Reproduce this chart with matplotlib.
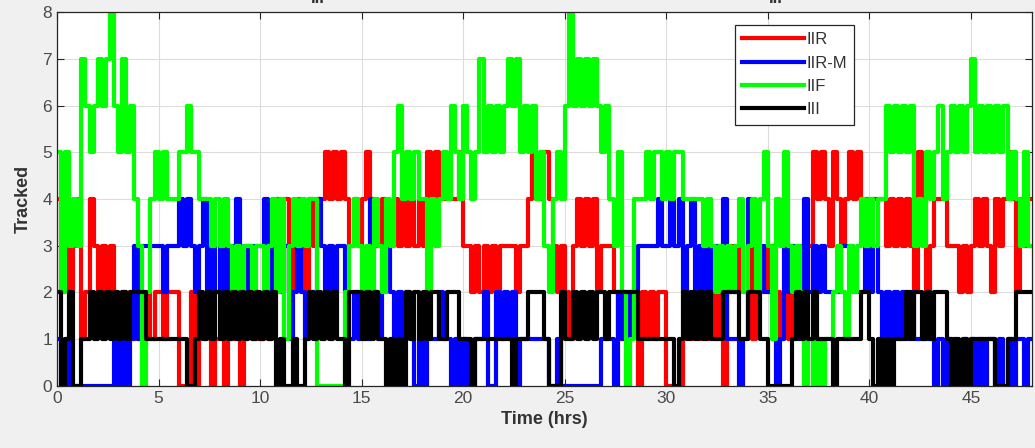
import numpy as np
import matplotlib
matplotlib.use('Agg')
import matplotlib.pyplot as plt

# 每0.2小时一个值, 每段10个值 = 2小时
dt = 0.2
iir = ("4232341243" "2323212121" "1121221222" "0002011201" "1011201311" "1213424234"
       "3243445454" "5434345433" "4334343434" "3545444445" "3323232323" "3332334544"
       "5432321343" "4342333212" "1220212122" "0000121212" "1212023232" "3122323212"
       "1223235454" "3543454544" "4444343434" "3254234443" "3323234343" "2434542434")
iirm = ("1010000000" "0000101013" "1333332333" "4343234232" "3233423233" "3423323123"
        "2122432323" "3212121421" "2321212101" "0111211010" "1001120021" "2120111111"
        "1001000000" "0000111021" "1223333343" "3434234232" "3233411101" "4323222013"
        "2312423232" "2223332223" "2321212121" "2111110101" "1001010101" "1010101101")
iif = ("5253437656" "7678657564" "3024545444" "5565544434" "3432323323" "3234241343"
       "4344000000" "0234323243" "2435645454" "4243454654" "6545756565" "6767565645"
       "3245468676" "7676564352" "0144454554" "5455444443" "4323232342" "3424531435"
       "3232010101" "1232132343" "4344656565" "6343545645" "6565675656" "5656454353")
iii = ("2012001121" "2121212122" "2211111111" "1100121212" "1212121212" "1212010010"
       "0121212121" "1022212121" "1010102121" "2122112221" "1101111111" "1101112222"
       "1000211212" "1212212222" "2221111111" "1101212121" "2111222211" "2221100000"
       "0121212111" "1011111122" "1010101112" "1221212221" "0101011111" "1000112222")

labels = ['IIR', 'IIR-M', 'IIF', 'III']
colors = ['#ff0000', '#0000ff', '#00ff00', '#000000']

plt.rcParams['font.family'] = ['Liberation Sans', 'DejaVu Sans']

fig = plt.figure(figsize=(10.35, 4.48), dpi=100, facecolor='#f0f0f0')
ax = fig.add_axes([0.0551, 0.1384, 0.9419, 0.8348])
ax.set_facecolor('white')

for s, lab, c in zip([iir, iirm, iif, iii], labels, colors):
    y = np.array([int(ch) for ch in s])
    t = np.arange(len(y)) * dt
    t = np.append(t, len(y) * dt)
    y = np.append(y, y[-1])
    ax.step(t, y, where='post', color=c, lw=3.0, label=lab)

ax.set_xlim(0, 48)
ax.set_ylim(0, 8)
ax.set_xticks(range(0, 46, 5))
ax.set_yticks(range(0, 9))
ax.grid(True, color='#dcdcdc', lw=0.8)
ax.set_axisbelow(True)
ax.tick_params(direction='in', top=True, right=True, labelsize=12.5,
               colors='#262626', labelcolor='#4a4a4a', length=5)
for sp in ax.spines.values():
    sp.set_color('#262626')
    sp.set_linewidth(0.9)

ax.set_xlabel('Time (hrs)', fontsize=13, fontweight='bold', color='#333333', labelpad=4)
ax.set_ylabel('Tracked', fontsize=13, fontweight='bold', color='#333333', labelpad=8)

leg = ax.legend(loc='upper left', bbox_to_anchor=(0.695, 0.966), borderaxespad=0,
                fontsize=12, handlelength=3.7, handletextpad=0.15, labelspacing=0.5,
                borderpad=0.45, fancybox=False, framealpha=1, edgecolor='#262626')
leg.get_frame().set_linewidth(0.9)
for txt in leg.get_texts():
    txt.set_color('#333333')

# 上方被截掉的标题
fig.text(0.300, 1.003, 'III', fontsize=12, fontweight='bold', color='#333333', va='center')
fig.text(0.743, 1.003, 'III', fontsize=12, fontweight='bold', color='#333333', va='center')

fig.savefig('out.png', dpi=100, facecolor=fig.get_facecolor())
